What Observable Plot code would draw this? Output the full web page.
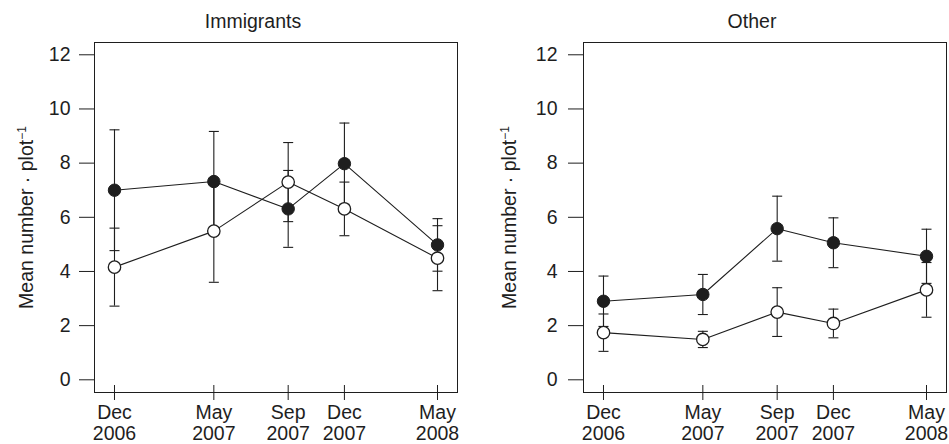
<!DOCTYPE html>
<html>
<head>
<meta charset="utf-8">
<script src="https://cdn.jsdelivr.net/npm/d3@7"></script>
<script src="https://cdn.jsdelivr.net/npm/@observablehq/plot@0.6"></script>
<style>
html, body { margin: 0; padding: 0; background: #fff; }
#chart { position: relative; width: 949px; height: 444px; overflow: hidden; background: #fff; }
#chart > div { position: absolute; top: 0; }
</style>
</head>
<body>
<div id="chart"><div id="p1" style="left:0px"></div><div id="p2" style="left:475px"></div></div>
<script>
// ---- data ----
const dates = ["2006-12-01", "2007-05-09", "2007-09-05", "2007-12-04", "2008-05-01"];
const monthLabels = ["Dec", "May", "Sep", "Dec", "May"];
const yearLabels = ["2006", "2007", "2007", "2007", "2008"];
const yTicks = [0, 2, 4, 6, 8, 10, 12];
const panelTitles = ["Immigrants", "Other"];
const yLabel = "Mean number · plot";
const yLabelExp = "−1";

// Immigrants panel
const immFilledMean = [7.00, 7.32, 6.31, 7.98, 4.98];
const immFilledSE   = [2.23, 1.85, 1.42, 1.50, 0.97];
const immOpenMean   = [4.16, 5.49, 7.30, 6.31, 4.49];
const immOpenSE     = [1.44, 1.89, 1.46, 0.99, 1.20];

// Other panel
const othFilledMean = [2.90, 3.15, 5.58, 5.06, 4.56];
const othFilledSE   = [0.93, 0.74, 1.20, 0.92, 1.00];
const othOpenMean   = [1.74, 1.49, 2.50, 2.08, 3.32];
const othOpenSE     = [0.69, 0.30, 0.90, 0.53, 1.01];

// ---- helpers ----
const parse = d3.utcParse("%Y-%m-%d");
const X = dates.map(parse);
const xDomain = [parse("2006-10-30"), parse("2008-06-02")];
const yDomain = [-0.469, 12.454];
const ink = "#1e1e1e";
const FONT = "Liberation Sans, Arial, Helvetica, sans-serif";
const FS = 19.5;

function series(means, ses) {
  return means.map((m, i) => ({date: X[i], mean: m, se: ses[i]}));
}

const capSymbol = {
  draw(context) {
    context.moveTo(-5, 0);
    context.lineTo(5, 0);
  }
};

function panel({title, filled, open, width, marginLeft, marginRight, tickPadding, titleDx, labelDx}) {
  const marginTop = 42, marginBottom = 52, height = 444;
  const plotH = height - marginTop - marginBottom;
  const both = [...filled, ...open];
  const svg = Plot.plot({
    width, height, marginLeft, marginRight, marginTop, marginBottom,
    x: {type: "utc", domain: xDomain, axis: null},
    y: {domain: yDomain},
    style: {fontFamily: FONT, fontSize: FS + "px", color: ink, background: "white", overflow: "visible"},
    marks: [
      Plot.frame({stroke: ink, strokeWidth: 1}),
      Plot.axisY(yTicks, {anchor: "left", tickSize: 15, tickPadding, label: null, fontSize: FS, stroke: ink}),
      Plot.ruleX(X, {x: d => d, insetTop: plotH - 7, insetBottom: -8, stroke: ink, strokeWidth: 1}),
      Plot.text(X, {x: d => d, text: (d, i) => monthLabels[i] + "\n" + yearLabels[i],
        frameAnchor: "bottom", lineAnchor: "top", dy: 11.2, lineHeight: 1.1, fontSize: FS, fill: ink}),
      Plot.line(filled, {x: "date", y: "mean", stroke: ink, strokeWidth: 1.1}),
      Plot.line(open, {x: "date", y: "mean", stroke: ink, strokeWidth: 1.1}),
      Plot.ruleX(both, {x: "date", y1: d => d.mean - d.se, y2: d => d.mean + d.se, stroke: ink, strokeWidth: 1.1}),
      Plot.dot(both, {x: "date", y: d => d.mean - d.se, symbol: capSymbol, stroke: ink, strokeWidth: 1.1, fill: "none"}),
      Plot.dot(both, {x: "date", y: d => d.mean + d.se, symbol: capSymbol, stroke: ink, strokeWidth: 1.1, fill: "none"}),
      Plot.dot(filled, {x: "date", y: "mean", r: 6.2, fill: ink, stroke: ink, strokeWidth: 1}),
      Plot.dot(open, {x: "date", y: "mean", r: 6.2, fill: "white", stroke: ink, strokeWidth: 1.3}),
      Plot.text([title], {text: d => d, frameAnchor: "top", dx: titleDx, dy: -20.3, lineAnchor: "middle", fontSize: FS, fill: ink}),
      Plot.text([yLabel], {text: d => d, frameAnchor: "left", rotate: -90, dx: labelDx, lineAnchor: "middle",
        textAnchor: "middle", fontSize: FS, fill: ink})
    ]
  });
  // superscript exponent on the y label
  const t = [...svg.querySelectorAll("text")].find(e => e.textContent === yLabel);
  if (t) {
    const ts = document.createElementNS("http://www.w3.org/2000/svg", "tspan");
    ts.setAttribute("dy", "-0.55em");
    ts.setAttribute("font-size", "12");
    ts.textContent = yLabelExp;
    t.appendChild(ts);
  }
  return svg;
}

document.getElementById("p1").appendChild(panel({
  title: panelTitles[0],
  filled: series(immFilledMean, immFilledSE),
  open: series(immOpenMean, immOpenSE),
  width: 475, marginLeft: 94, marginRight: 18, tickPadding: 9, titleDx: -23, labelDx: -68
}));
document.getElementById("p2").appendChild(panel({
  title: panelTitles[1],
  filled: series(othFilledMean, othFilledSE),
  open: series(othOpenMean, othOpenSE),
  width: 474, marginLeft: 108, marginRight: 3, tickPadding: 11, titleDx: -13, labelDx: -74
}));
</script>
</body>
</html>
